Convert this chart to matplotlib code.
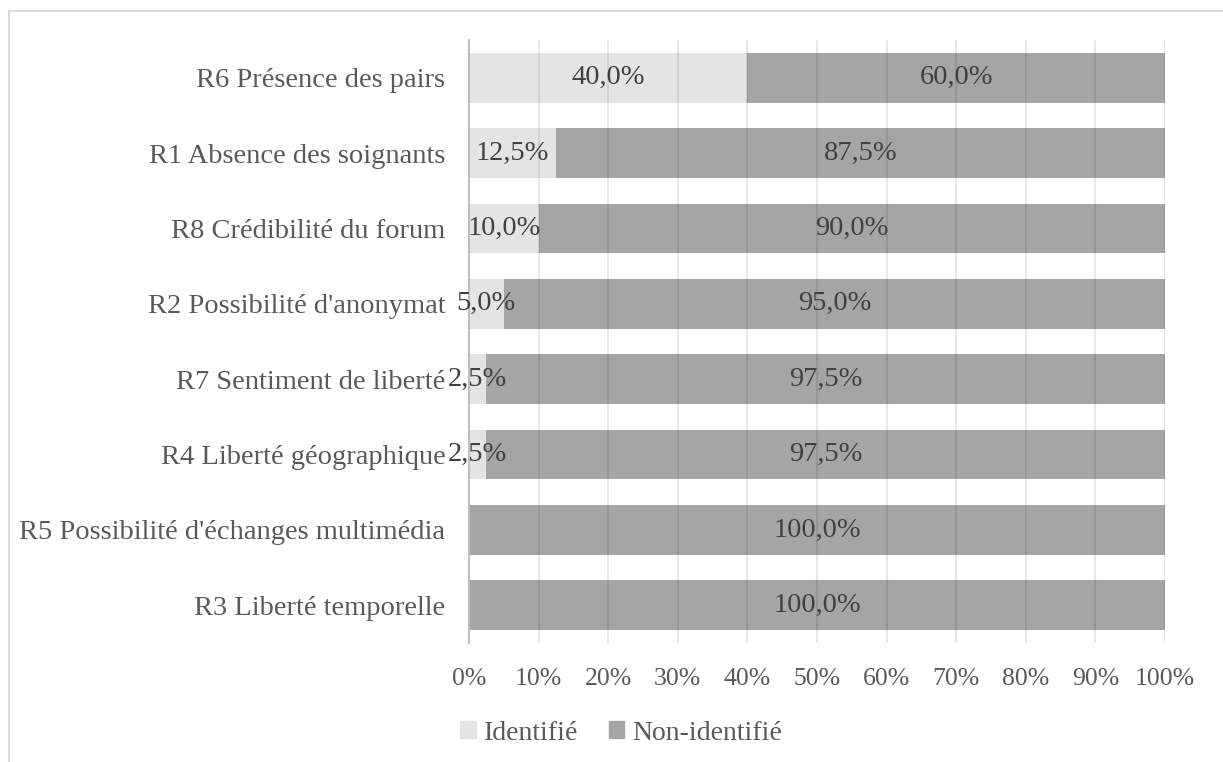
import numpy as np
import matplotlib
matplotlib.use('Agg')
import matplotlib.pyplot as plt
from matplotlib.patches import Rectangle

plt.rcParams.update({
    "font.family": ["Liberation Serif", "DejaVu Serif"],
    "font.size": 20,
})

categories = [
    "R6 Présence des pairs",
    "R1 Absence des soignants",
    "R8 Crédibilité du forum",
    "R2 Possibilité d'anonymat",
    "R7 Sentiment de liberté",
    "R4 Liberté géographique",
    "R5 Possibilité d'échanges multimédia",
    "R3 Liberté temporelle",
]
identifie = [40.0, 12.5, 10.0, 5.0, 2.5, 2.5, 0.0, 0.0]
non_identifie = [60.0, 87.5, 90.0, 95.0, 97.5, 97.5, 100.0, 100.0]
xticks = [0, 10, 20, 30, 40, 50, 60, 70, 80, 90, 100]

C_ID = "#e4e4e4"
C_NON = "#a5a5a5"
TXT = "#595959"
LBL = "#404040"

fig = plt.figure(figsize=(12.23, 7.62), dpi=100)
ax = fig.add_axes([469 / 1223, 1 - 643 / 762, (1165 - 469) / 1223, (643 - 40) / 762])

y = np.arange(len(categories))
ax.barh(y, identifie, height=0.66, color=C_ID, zorder=2)
ax.barh(y, non_identifie, left=identifie, height=0.66, color=C_NON, zorder=2)

fmt = lambda v: f"{v:.1f}".replace(".", ",") + "%"
for i in range(len(categories)):
    if identifie[i] > 0:
        ax.text(identifie[i] / 2, y[i], fmt(identifie[i]), ha="center", va="center",
                color=LBL, fontsize=20.5, zorder=4)
    if non_identifie[i] > 0:
        ax.text(identifie[i] + non_identifie[i] / 2, y[i], fmt(non_identifie[i]),
                ha="center", va="center", color=LBL, fontsize=20.5, zorder=4)

ax.set_ylim(len(categories) - 0.5, -0.5)
ax.set_xlim(0, 100)
ax.set_yticks(y)
ax.set_yticklabels(categories, color=TXT, fontsize=20.5)
ax.set_xticks(xticks)
ax.set_xticklabels([f"{t}%" for t in xticks], color=TXT, fontsize=18.5)
ax.tick_params(axis="both", length=0)
ax.tick_params(axis="y", pad=17)
ax.tick_params(axis="x", pad=18)

for t in xticks[1:]:
    ax.axvline(t, color="black", alpha=0.09, lw=1.5, zorder=3)
for s in ["top", "right", "bottom"]:
    ax.spines[s].set_visible(False)
ax.spines["left"].set_color("#bfbfbf")
ax.spines["left"].set_linewidth(1.5)

handles = [Rectangle((0, 0), 1, 1, color=C_ID), Rectangle((0, 0), 1, 1, color=C_NON)]
fig.legend(handles, ["Identifié", "Non-identifié"], loc="center", bbox_to_anchor=(0.508, 1 - 733 / 762),
           ncol=2, frameon=False, fontsize=20, labelcolor=TXT, handlelength=0.55, handleheight=0.55,
           handletextpad=0.3, columnspacing=1.1)

# chart frame (cut at right and bottom like the original)
fig.add_artist(Rectangle((9 / 1223, -0.1), 1.2, 1 - 11 / 762 + 0.1, transform=fig.transFigure,
                         fill=False, edgecolor="#d9d9d9", lw=1.5))

fig.savefig("out.png", dpi=100)
